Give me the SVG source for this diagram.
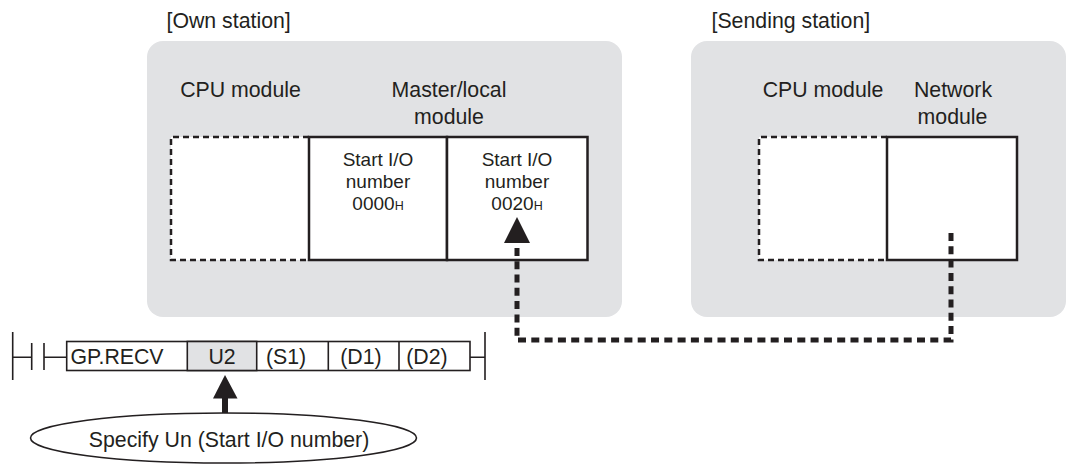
<svg xmlns="http://www.w3.org/2000/svg" width="1066" height="465" viewBox="0 0 1066 465">
<style>
text{font-family:"Liberation Sans",Arial,sans-serif;fill:#231f20}
.lg{font-size:21.3px}
.md{font-size:19px}
.sub{font-size:12.5px}
.mid{text-anchor:middle}
.station{fill:#e1e2e4}
.solid{fill:#fff;stroke:#231f20;stroke-width:2.5}
.dash{fill:none;stroke:#231f20;stroke-width:2.5;stroke-dasharray:6 4}
.thin{fill:none;stroke:#231f20;stroke-width:1.6}
.conn{fill:none;stroke:#231f20;stroke-width:5;stroke-dasharray:8 5.3}
</style>
<rect x="0" y="0" width="1066" height="465" fill="#fff"/>
<g id="own-station">
<text class="lg" x="166.5" y="28">[Own station]</text>
<rect class="station" x="147" y="41" width="475" height="276" rx="16"/>
<text class="lg mid" x="240.5" y="97">CPU module</text>
<text class="lg mid" x="449" y="97">Master/local</text>
<text class="lg mid" x="449" y="124">module</text>
</g>
<g id="own-cpu">
<rect x="171" y="137" width="138" height="123" fill="#fff"/>
<path class="dash" d="M309 137H171V260H309"/>
</g>
<g id="own-slot0">
<rect class="solid" x="309" y="137" width="138" height="123"/>
<text class="md mid" x="378" y="166">Start I/O</text>
<text class="md mid" x="378" y="188">number</text>
<text class="md mid" x="378" y="210">0000<tspan class="sub">H</tspan></text>
</g>
<g id="own-slot1">
<rect class="solid" x="447" y="137" width="140.5" height="123"/>
<text class="md mid" x="517" y="166">Start I/O</text>
<text class="md mid" x="517" y="188">number</text>
<text class="md mid" x="517" y="210">0020<tspan class="sub">H</tspan></text>
</g>
<g id="sending-station">
<text class="lg" x="711.5" y="28">[Sending station]</text>
<rect class="station" x="691" y="41" width="375" height="276" rx="16"/>
<text class="lg mid" x="823" y="97">CPU module</text>
<text class="lg mid" x="953" y="97">Network</text>
<text class="lg mid" x="952.5" y="124">module</text>
</g>
<g id="sending-cpu">
<rect x="759" y="137" width="128" height="123" fill="#fff"/>
<path class="dash" d="M887 137H759V260H887"/>
</g>
<g id="network-module">
<rect class="solid" x="887" y="137" width="130" height="123"/>
</g>
<g id="ladder">
<path class="thin" d="M12.7 332V380M12.7 357.3H31.7M31.7 343V370M44 343V370M44 357.3H66.7M470 357.3H485M485 332V380"/>
<rect x="66.7" y="341.5" width="403.3" height="29" fill="#fff" stroke="#231f20" stroke-width="1.6"/>
<rect x="187.3" y="341.5" width="69.4" height="29" fill="#e1e2e4" stroke="#231f20" stroke-width="1.6"/>
<path class="thin" d="M328.3 341.5V370.5M399 341.5V370.5"/>
<text class="lg mid" x="117" y="363.5">GP.RECV</text>
<text class="lg mid" x="222" y="363.5">U2</text>
<text class="lg mid" x="286" y="363.5">(S1)</text>
<text class="lg mid" x="361" y="363.5">(D1)</text>
<text class="lg mid" x="427" y="363.5">(D2)</text>
</g>
<g id="note">
<ellipse cx="223.5" cy="438" rx="193" ry="25" fill="#fff" stroke="#231f20" stroke-width="1.6"/>
<text class="lg mid" x="229" y="446.5">Specify Un (Start I/O number)</text>
</g>
<g id="connectors">
<path class="conn" d="M951 233V340H517V244"/>
<polygon points="517,217 504,243 530,243" fill="#231f20"/>
<path d="M225 398V413" stroke="#231f20" stroke-width="6"/>
<polygon points="225,375 213,398.5 237.5,398.5" fill="#231f20"/>
</g>
</svg>
